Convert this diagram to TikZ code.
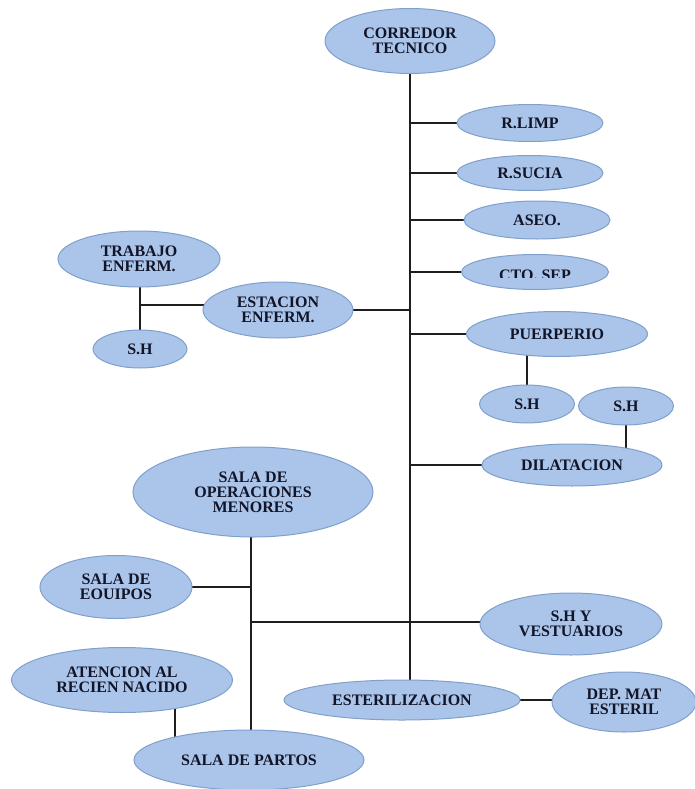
\documentclass[tikz,border=0pt]{standalone}
\usepackage{fontspec}
\setmainfont{Liberation Serif}
\usetikzlibrary{shapes.geometric,backgrounds}
\definecolor{roomfill}{RGB}{170,197,233}
\definecolor{roomedge}{RGB}{128,160,204}
\definecolor{roomtext}{RGB}{18,20,40}
\definecolor{wire}{RGB}{30,30,30}
\begin{document}
\begin{tikzpicture}[x=1pt,y=-1pt,
  roomfont/.style={font=\fontsize{16}{15}\selectfont\bfseries, text=roomtext},
  room/.style={ellipse, draw=roomedge, line width=1pt, fill=roomfill,
    inner sep=0pt, align=center, roomfont},
  link/.style={draw=wire, line width=1.5pt}]
\useasboundingbox (0,0) rectangle (695,789);

% rooms along the technical corridor
\node[room, minimum width=170pt, minimum height=65pt] (corr) at (410,41) {CORREDOR\\TECNICO};
\node[room, minimum width=146pt, minimum height=37pt] (rlimp) at (530,123) {R.LIMP};
\node[room, minimum width=146pt, minimum height=35pt] (rsucia) at (530,173) {R.SUCIA};
\node[room, minimum width=146pt, minimum height=38pt] (aseo) at (537,220) {ASEO.};
\node[room, minimum width=147pt, minimum height=35pt] (ctosep) at (535,272) {};
\begin{scope}
  \clip (460,250) rectangle (620,277);
  \node[roomfont, inner sep=0pt] (ctolabel) at (535,275) {CTO. SEP};
\end{scope}
\node[room, minimum width=150pt, minimum height=56pt] (estacion) at (278,310) {ESTACION\\ENFERM.};
\node[room, minimum width=162pt, minimum height=56pt] (trabajo) at (139,259) {TRABAJO\\ENFERM.};
\node[room, minimum width=94pt, minimum height=38pt] (shleft) at (140,349) {S.H};
\node[room, minimum width=181pt, minimum height=45pt] (puerp) at (557,334) {PUERPERIO};
\node[room, minimum width=95pt, minimum height=38pt] (shmid) at (527,404) {S.H};
\node[room, minimum width=95pt, minimum height=38pt] (shright) at (626,406) {S.H};
\node[room, minimum width=180pt, minimum height=42pt] (dilat) at (572,465) {DILATACION};

% delivery wing
\node[room, minimum width=240pt, minimum height=90pt] (operac) at (253,492) {SALA DE\\OPERACIONES\\MENORES};
\node[room, minimum width=152pt, minimum height=63pt] (equipos) at (116,587) {SALA DE\\EOUIPOS};
\node[room, minimum width=182pt, minimum height=62pt] (vest) at (571,624) {S.H Y\\VESTUARIOS};
\node[room, minimum width=221pt, minimum height=65pt] (atenc) at (122,680) {ATENCION AL\\RECIEN NACIDO};
\node[room, minimum width=230pt, minimum height=60pt] (partos) at (249,760) {SALA DE PARTOS};
\node[room, minimum width=236pt, minimum height=40pt] (ester) at (402,700) {ESTERILIZACION};
\node[room, minimum width=144pt, minimum height=60pt] (depmat) at (624,702) {DEP. MAT\\ESTERIL};

\coordinate (stem) at (251,492);
\coordinate (atx) at (175,680);
\coordinate (tbx) at (140,305);
\coordinate (vrow) at (0,622);

\begin{scope}[on background layer]
  \fill[white] (0,0) rectangle (695,789);
  % main corridor spine
  \draw[link] (corr.center) -- (corr.center |- ester.center);
  \foreach \r in {rlimp,rsucia,aseo,ctosep,puerp,dilat}
    \draw[link] (corr.center |- \r.center) -- (\r.center);
  \draw[link] (estacion.center) -- (estacion.center -| corr.center);
  % nurse station branch
  \draw[link] (tbx |- trabajo.center) -- (tbx |- shleft.center);
  \draw[link] (tbx) -- (tbx -| estacion.center);
  % sanitary rooms
  \draw[link] (shmid.center) -- (shmid.center |- puerp.center);
  \draw[link] (shright.center) -- (shright.center |- dilat.center);
  % operating / delivery branch
  \draw[link] (stem) -- (stem |- partos.center);
  \draw[link] (equipos.center) -- (equipos.center -| stem);
  \draw[link] (stem |- vrow) -- (vest.center |- vrow);
  \draw[link] (atx) -- (atx |- partos.center);
  \draw[link] (ester.center) -- (ester.center -| depmat.center);
\end{scope}
\end{tikzpicture}
\end{document}
